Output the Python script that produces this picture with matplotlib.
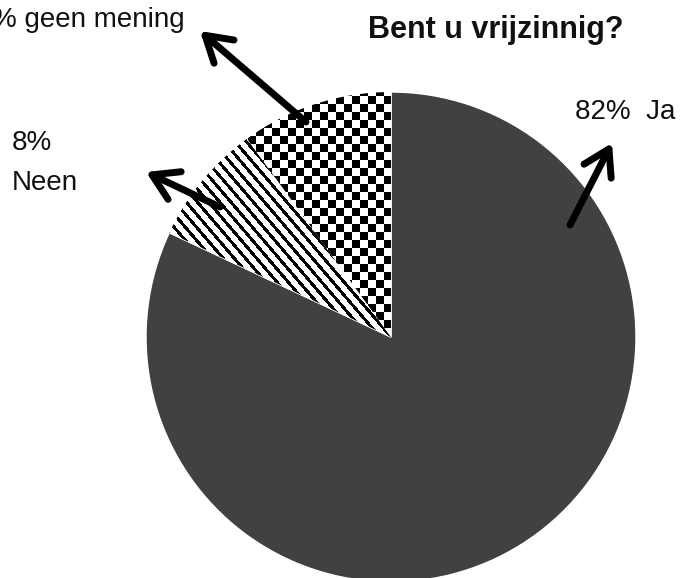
import matplotlib.pyplot as plt
import numpy as np

# chart data
answers = ['Ja', 'Neen', 'geen mening']
percentages = [82, 8, 10]
title = 'Bent u vrijzinnig?'

W, H = 681, 578
plt.rcParams['font.family'] = ['Liberation Sans', 'DejaVu Sans']

fig = plt.figure(figsize=(W / 100, H / 100), dpi=100)
ax = fig.add_axes([0, 0, 1, 1])

# pie drawn in pixel-like coordinates (y up)
cx, cy, r = 391, H - 337, 245
wedges, _ = ax.pie(percentages, startangle=90, counterclock=False,
                   center=(cx, cy), radius=r,
                   colors=['#414141', 'white', 'white'],
                   wedgeprops=dict(edgecolor='white', linewidth=1))

# textures for the two small slices
yy, xx = np.mgrid[0:H, 0:W]
stripes = np.where(((0.76 * xx - 0.65 * yy) % 8.5) < 3.2, 0.0, 1.0)
checker = ((xx // 8 + yy // 8) % 2).astype(float)

for tex, wedge in [(stripes, wedges[1]), (checker, wedges[2])]:
    im = ax.imshow(tex, cmap='gray', vmin=0, vmax=1, origin='upper',
                   extent=(0, W, 0, H), interpolation='nearest', zorder=2)
    im.set_clip_path(wedge)

ax.set_xlim(0, W)
ax.set_ylim(0, H)
ax.set_aspect('equal')
ax.axis('off')

# title
ax.text(368, H - 38, title, fontsize=22, fontweight='bold',
        ha='left', va='baseline', color='#111111')

# labels with arrows
lab_kw = dict(fontsize=20, color='#111111', va='baseline')
ax.text(575, H - 119, f'{percentages[0]}%  {answers[0]}', ha='left', **lab_kw)
ax.text(12, H - 150, f'{percentages[1]}%', ha='left', **lab_kw)
ax.text(12, H - 190, answers[1], ha='left', **lab_kw)
ax.text(185, H - 27, f'{percentages[2]}% {answers[2]}', ha='right', **lab_kw)

arrow_kw = dict(arrowstyle='->, head_length=0.9, head_width=0.55',
                lw=5, color='black', mutation_scale=20,
                shrinkA=0, shrinkB=0)
arrows = [((570, 225), (612, 143)),
          ((220, 207), (146, 172)),
          ((306, 122), (200, 31))]
for (x0, y0), (x1, y1) in arrows:
    ax.annotate('', xy=(x1, H - y1), xytext=(x0, H - y0),
                arrowprops=arrow_kw, zorder=5)

fig.savefig('out.png', dpi=100)
